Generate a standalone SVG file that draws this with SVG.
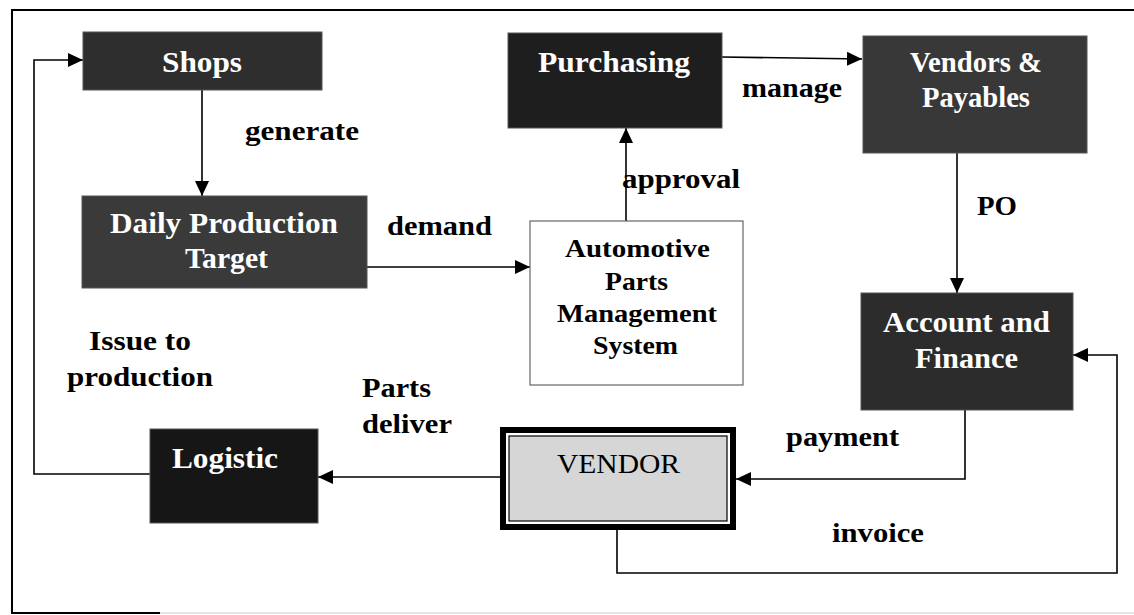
<svg xmlns="http://www.w3.org/2000/svg" width="1134" height="615" viewBox="0 0 1134 615">
<defs>
<marker id="arr" markerUnits="userSpaceOnUse" markerWidth="15" markerHeight="14" refX="15" refY="7" orient="auto">
<path d="M0,0 L15,7 L0,14 Z" fill="#000"/>
</marker>
</defs>
<style>
.lbl{font-family:"Liberation Serif","Times New Roman",serif;font-weight:bold;font-size:28px;fill:#000}
.nt{font-family:"Liberation Serif","Times New Roman",serif;font-weight:bold;font-size:30px;fill:#fff}
.ap{font-family:"Liberation Serif","Times New Roman",serif;font-weight:bold;font-size:26px;fill:#000}
.vt{font-family:"Liberation Serif","Times New Roman",serif;font-size:28px;fill:#000}
.dark{stroke:#555;stroke-width:1}
.ln{fill:none;stroke:#000;stroke-width:1.6}
</style>
<rect x="0" y="0" width="1134" height="615" fill="#fff"/>
<g id="frame" fill="none">
<path d="M1134,10 L12,10 L12,613 L160,613" stroke="#000" stroke-width="2"/>
<line x1="160" y1="613" x2="1134" y2="613" stroke="#ddd" stroke-width="1.5"/>
</g>
<g id="connectors">
<path class="ln" d="M202,90 L202,196" marker-end="url(#arr)"/>
<path class="ln" d="M367,267 L530,267" marker-end="url(#arr)"/>
<path class="ln" d="M626,221 L626,128" marker-end="url(#arr)"/>
<path class="ln" d="M722,57 L862,59" marker-end="url(#arr)"/>
<path class="ln" d="M957,153 L957,293" marker-end="url(#arr)"/>
<path class="ln" d="M965,410 L965,479 L736,479" marker-end="url(#arr)"/>
<path class="ln" d="M617,530 L617,573 L1117,573 L1117,355 L1073,355" marker-end="url(#arr)"/>
<path class="ln" d="M500,477 L318,477" marker-end="url(#arr)"/>
<path class="ln" d="M150,474 L34,474 L34,60 L83,60" marker-end="url(#arr)"/>
<text class="lbl" x="245" y="140" textLength="114" lengthAdjust="spacingAndGlyphs">generate</text>
<text class="lbl" x="387" y="235" textLength="105" lengthAdjust="spacingAndGlyphs">demand</text>
<text class="lbl" x="622" y="188" textLength="118" lengthAdjust="spacingAndGlyphs">approval</text>
<text class="lbl" x="742" y="97" textLength="100" lengthAdjust="spacingAndGlyphs">manage</text>
<text class="lbl" x="977" y="215" textLength="40" lengthAdjust="spacingAndGlyphs">PO</text>
<text class="lbl" x="786" y="446" textLength="113" lengthAdjust="spacingAndGlyphs">payment</text>
<text class="lbl" x="832" y="542" textLength="92" lengthAdjust="spacingAndGlyphs">invoice</text>
<text class="lbl" x="89" y="350" textLength="102" lengthAdjust="spacingAndGlyphs">Issue to</text>
<text class="lbl" x="67" y="386" textLength="146" lengthAdjust="spacingAndGlyphs">production</text>
<text class="lbl" x="362" y="397" textLength="69" lengthAdjust="spacingAndGlyphs">Parts</text>
<text class="lbl" x="362" y="433" textLength="90" lengthAdjust="spacingAndGlyphs">deliver</text>
</g>
<g id="shops">
<rect x="83" y="32" width="239" height="58" fill="#2e2e2e" class="dark"/>
<text class="nt" x="162" y="72" textLength="80" lengthAdjust="spacingAndGlyphs">Shops</text>
</g>
<g id="daily-production-target">
<rect x="82" y="196" width="285" height="92" fill="#3a3a3a" class="dark"/>
<text class="nt" x="110" y="233" textLength="228" lengthAdjust="spacingAndGlyphs">Daily Production</text>
<text class="nt" x="185" y="268" textLength="83" lengthAdjust="spacingAndGlyphs">Target</text>
</g>
<g id="purchasing">
<rect x="508" y="33" width="214" height="95" fill="#1e1e1e" class="dark"/>
<text class="nt" x="538" y="72" textLength="152" lengthAdjust="spacingAndGlyphs">Purchasing</text>
</g>
<g id="vendors-payables">
<rect x="863" y="36" width="224" height="117" fill="#383838" class="dark"/>
<text class="nt" x="910" y="72" textLength="132" lengthAdjust="spacingAndGlyphs">Vendors &amp;</text>
<text class="nt" x="922" y="107" textLength="108" lengthAdjust="spacingAndGlyphs">Payables</text>
</g>
<g id="apms">
<rect x="530" y="221" width="213" height="164" fill="#fff" stroke="#666" stroke-width="1.2"/>
<text class="ap" x="565" y="257" textLength="145" lengthAdjust="spacingAndGlyphs">Automotive</text>
<text class="ap" x="605" y="290" textLength="63" lengthAdjust="spacingAndGlyphs">Parts</text>
<text class="ap" x="557" y="322" textLength="160" lengthAdjust="spacingAndGlyphs">Management</text>
<text class="ap" x="593" y="354" textLength="85" lengthAdjust="spacingAndGlyphs">System</text>
</g>
<g id="account-finance">
<rect x="861" y="293" width="212" height="117" fill="#2c2c2c" class="dark"/>
<text class="nt" x="883" y="332" textLength="167" lengthAdjust="spacingAndGlyphs">Account and</text>
<text class="nt" x="915" y="368" textLength="103" lengthAdjust="spacingAndGlyphs">Finance</text>
</g>
<g id="vendor">
<rect x="503" y="430" width="230" height="97" fill="#fff" stroke="#000" stroke-width="6"/>
<rect x="509" y="436" width="218" height="85" fill="#d6d6d6" stroke="#000" stroke-width="1.2"/>
<text class="vt" x="557" y="473" textLength="123" lengthAdjust="spacingAndGlyphs">VENDOR</text>
</g>
<g id="logistic">
<rect x="150" y="429" width="168" height="94" fill="#161616" class="dark"/>
<text class="nt" x="172" y="468" textLength="106" lengthAdjust="spacingAndGlyphs">Logistic</text>
</g>
</svg>
